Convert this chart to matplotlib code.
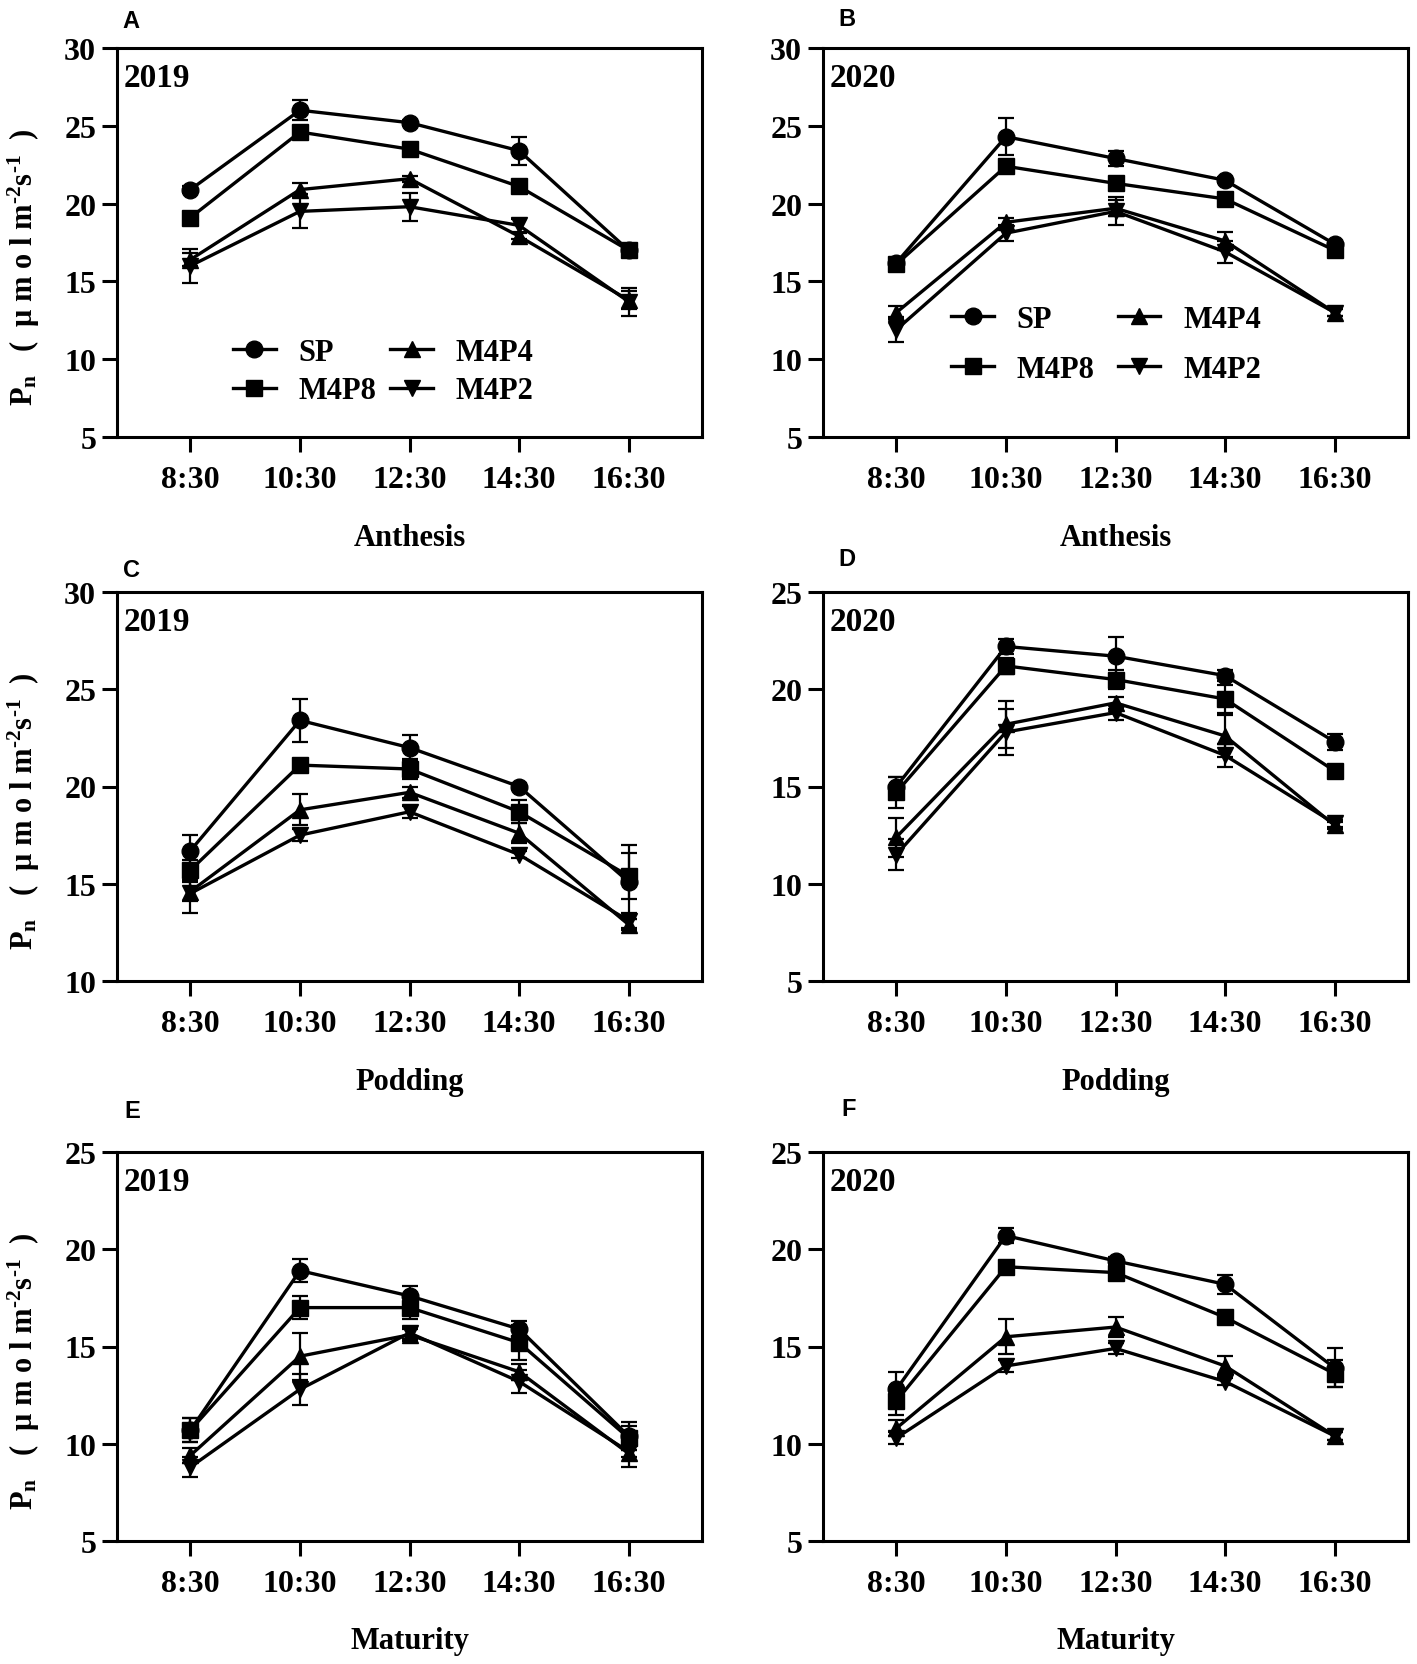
import matplotlib
matplotlib.use('Agg')
import matplotlib.pyplot as plt

plt.rcParams['font.family'] = ['Liberation Serif', 'DejaVu Serif']
plt.rcParams['font.weight'] = 'bold'
plt.rcParams['mathtext.fontset'] = 'custom'
plt.rcParams['mathtext.rm'] = 'Liberation Serif:bold'
plt.rcParams['mathtext.it'] = 'Liberation Serif:bold'
plt.rcParams['mathtext.bf'] = 'Liberation Serif:bold'

times = ['8:30', '10:30', '12:30', '14:30', '16:30']
treatments = ['SP', 'M4P8', 'M4P4', 'M4P2']
markers = ['o', 's', '^', 'v']

# A - anthesis 2019
sp_a = [20.9, 26.0, 25.2, 23.4, 17.0]
m4p8_a = [19.1, 24.6, 23.5, 21.1, 17.0]
m4p4_a = [16.4, 20.9, 21.6, 17.9, 13.8]
m4p2_a = [16.0, 19.5, 19.8, 18.6, 13.7]
sp_a_err = [0.2, 0.65, 0.2, 0.9, 0.2]
m4p8_a_err = [0.2, 0.4, 0.3, 0.3, 0.2]
m4p4_a_err = [0.4, 0.45, 0.2, 0.2, 0.6]
m4p2_a_err = [1.1, 1.1, 0.9, 0.4, 0.9]

# B - anthesis 2020
sp_b = [16.2, 24.3, 22.9, 21.5, 17.4]
m4p8_b = [16.1, 22.4, 21.3, 20.3, 17.0]
m4p4_b = [13.0, 18.8, 19.7, 17.6, 13.0]
m4p2_b = [11.9, 18.1, 19.5, 16.9, 13.0]
sp_b_err = [0.2, 1.2, 0.5, 0.2, 0.2]
m4p8_b_err = [0.2, 0.3, 0.3, 0.3, 0.2]
m4p4_b_err = [0.4, 0.3, 0.5, 0.6, 0.2]
m4p2_b_err = [0.8, 0.5, 0.9, 0.7, 0.2]

# C - podding 2019
sp_c = [16.7, 23.4, 22.0, 20.0, 15.1]
m4p8_c = [15.7, 21.1, 20.9, 18.7, 15.4]
m4p4_c = [14.6, 18.8, 19.7, 17.6, 12.9]
m4p2_c = [14.5, 17.5, 18.7, 16.5, 13.1]
sp_c_err = [0.8, 1.1, 0.65, 0.2, 1.9]
m4p8_c_err = [0.5, 0.2, 0.5, 0.6, 1.2]
m4p4_c_err = [0.5, 0.8, 0.3, 0.5, 0.3]
m4p2_c_err = [1.0, 0.3, 0.3, 0.2, 0.4]

# D - podding 2020
sp_d = [15.0, 22.2, 21.7, 20.7, 17.3]
m4p8_d = [14.7, 21.2, 20.5, 19.5, 15.8]
m4p4_d = [12.4, 18.2, 19.3, 17.6, 13.0]
m4p2_d = [11.5, 17.8, 18.8, 16.6, 13.1]
sp_d_err = [0.5, 0.4, 1.0, 0.3, 0.4]
m4p8_d_err = [0.8, 0.4, 0.5, 0.7, 0.3]
m4p4_d_err = [1.0, 1.2, 0.3, 1.1, 0.2]
m4p2_d_err = [0.8, 1.2, 0.4, 0.6, 0.2]

# E - maturity 2019
sp_e = [10.7, 18.9, 17.6, 15.9, 10.4]
m4p8_e = [10.7, 17.0, 17.0, 15.2, 10.3]
m4p4_e = [9.4, 14.5, 15.6, 13.7, 9.5]
m4p2_e = [8.8, 12.8, 15.7, 13.2, 9.6]
sp_e_err = [0.6, 0.6, 0.5, 0.4, 0.7]
m4p8_e_err = [0.6, 0.6, 0.6, 0.9, 0.6]
m4p4_e_err = [0.4, 1.2, 0.3, 0.4, 0.7]
m4p2_e_err = [0.5, 0.8, 0.3, 0.6, 0.3]

# F - maturity 2020
sp_f = [12.8, 20.7, 19.4, 18.2, 13.9]
m4p8_f = [12.2, 19.1, 18.8, 16.5, 13.6]
m4p4_f = [10.8, 15.5, 16.0, 14.0, 10.4]
m4p2_f = [10.3, 14.0, 14.9, 13.2, 10.4]
sp_f_err = [0.9, 0.4, 0.2, 0.5, 1.0]
m4p8_f_err = [0.7, 0.2, 0.2, 0.2, 0.7]
m4p4_f_err = [0.4, 0.9, 0.5, 0.5, 0.2]
m4p2_f_err = [0.3, 0.3, 0.3, 0.2, 0.2]

panels = [
    ('A', '2019', 'Anthesis', (5, 30), [sp_a, m4p8_a, m4p4_a, m4p2_a], [sp_a_err, m4p8_a_err, m4p4_a_err, m4p2_a_err]),
    ('B', '2020', 'Anthesis', (5, 30), [sp_b, m4p8_b, m4p4_b, m4p2_b], [sp_b_err, m4p8_b_err, m4p4_b_err, m4p2_b_err]),
    ('C', '2019', 'Podding', (10, 30), [sp_c, m4p8_c, m4p4_c, m4p2_c], [sp_c_err, m4p8_c_err, m4p4_c_err, m4p2_c_err]),
    ('D', '2020', 'Podding', (5, 25), [sp_d, m4p8_d, m4p4_d, m4p2_d], [sp_d_err, m4p8_d_err, m4p4_d_err, m4p2_d_err]),
    ('E', '2019', 'Maturity', (5, 25), [sp_e, m4p8_e, m4p4_e, m4p2_e], [sp_e_err, m4p8_e_err, m4p4_e_err, m4p2_e_err]),
    ('F', '2020', 'Maturity', (5, 25), [sp_f, m4p8_f, m4p4_f, m4p2_f], [sp_f_err, m4p8_f_err, m4p4_f_err, m4p2_f_err]),
]

W, H = 1417, 1665
fig = plt.figure(figsize=(W / 100, H / 100), dpi=100)

lefts = [117, 823]
tops = [49, 593, 1153]
aw, ah = 585, 389
# panel letter offsets (dx from spine, dy above top spine), in pixels
letter_pos = {'A': (14, 28), 'B': (24, 29), 'C': (15, 22), 'D': (24, 33), 'E': (15, 41), 'F': (26, 44)}

ylab = r'P$_\mathregular{n}$   (  μ m o l m$^\mathregular{‐2}$s$^\mathregular{‐1}$  )'

for i, (letter, year, stage, ylim, vals, errs) in enumerate(panels):
    row, col = i // 2, i % 2
    l, t = lefts[col], tops[row]
    ax = fig.add_axes([l / W, 1 - (t + ah) / H, aw / W, ah / H])
    x = list(range(len(times)))
    for name, m, v, e in zip(treatments, markers, vals, errs):
        ax.errorbar(x, v, yerr=e, fmt='none', ecolor='black', elinewidth=1.6, capsize=6, capthick=1.6)
        ax.plot(x, v, color='black', marker=m, markersize=12, linewidth=2.4, label=name)
    ax.set_xlim(-0.67, 4.67)
    ax.set_ylim(*ylim)
    ax.set_yticks(range(ylim[0], ylim[1] + 1, 5))
    ax.set_xticks(x)
    ax.set_xticklabels(times)
    ax.tick_params(axis='both', labelsize=23, width=2.2, length=11, direction='out')
    ax.tick_params(axis='x', pad=9)
    ax.tick_params(axis='y', pad=4)
    for s in ax.spines.values():
        s.set_linewidth(2.2)
    ax.set_xlabel(stage, fontsize=22, fontweight='bold')
    ax.xaxis.set_label_coords(0.5, -0.222 if row < 2 else -0.218)
    if col == 0:
        ax.set_ylabel(ylab, fontsize=22, fontweight='bold')
        ax.yaxis.set_label_coords(-0.128, 0.44)
    ax.text(0.011, 0.925, year, transform=ax.transAxes, fontsize=24, fontweight='bold', ha='left', va='center')
    dx, dy = letter_pos[letter]
    fig.text((l + dx) / W, 1 - (t - dy) / H, letter, fontsize=17, fontweight='bold',
             family=['Liberation Sans', 'DejaVu Sans'], ha='center', va='center')
    if letter == 'A':
        ax.legend(ncol=2, frameon=False, fontsize=22, loc='center left', bbox_to_anchor=(0.198, 0.168),
                  borderpad=0, borderaxespad=0, handlelength=1.4, handletextpad=0.75,
                  columnspacing=0.45, labelspacing=0.3)
    if letter == 'B':
        ax.legend(ncol=2, frameon=False, fontsize=22, loc='center left', bbox_to_anchor=(0.219, 0.238),
                  borderpad=0, borderaxespad=0, handlelength=1.4, handletextpad=0.75,
                  columnspacing=0.75, labelspacing=0.68)

plt.savefig('out.png', format='png')
